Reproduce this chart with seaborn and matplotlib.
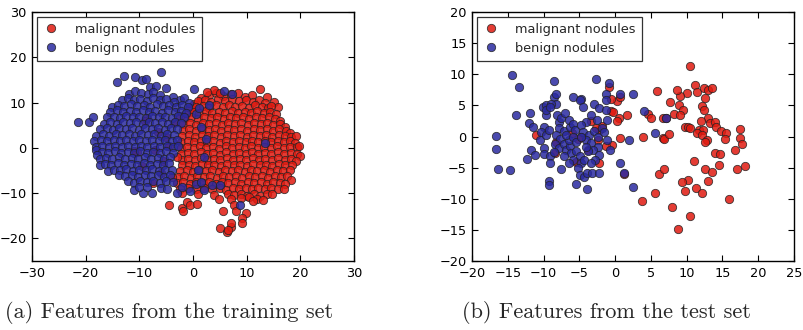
import matplotlib
matplotlib.use("Agg")
import matplotlib.pyplot as plt
import pandas as pd
import seaborn as sns
from matplotlib.lines import Line2D

# ---------------- data ----------------
series_labels = ["malignant nodules", "benign nodules"]
captions = ["(a) Features from the training set", "(b) Features from the test set"]

train_xlim = (-30, 30)
train_ylim = (-25, 30)
train_xticks = [-30, -20, -10, 0, 10, 20, 30]
train_yticks = [-20, -10, 0, 10, 20, 30]

test_xlim = (-20, 25)
test_ylim = (-20, 20)
test_xticks = [-20, -15, -10, -5, 0, 5, 10, 15, 20, 25]
test_yticks = [-20, -15, -10, -5, 0, 5, 10, 15, 20]

train_malignant = [
    (1.5, 11.0), (3.0, 11.6), (4.3, 12.1), (5.6, 11.4), (7.0, 11.9), (8.4, 12.2), (9.6, 11.3), (11.0, 11.6),
    (12.5, 12.9), (3.9, 12.8), (13.8, 11.3),
    (0.2, 9.6), (1.0, 10.3), (2.2, 10.6), (3.4, 10.2), (4.7, 10.7), (6.0, 10.4), (7.2, 10.8), (8.5, 10.3),
    (9.8, 10.6), (11.1, 10.2), (12.3, 10.5), (13.4, 10.0), (15.1, 10.2), (15.8, 9.1),
    (-0.6, 8.8), (0.6, 9.0), (1.8, 9.3), (3.0, 8.9), (4.2, 9.4), (5.5, 9.1), (6.7, 9.5), (7.9, 9.0),
    (9.2, 9.3), (10.4, 8.9), (11.6, 9.4), (12.8, 9.0), (14.0, 8.7), (14.6, 9.3),
    (-1.2, 7.7), (0.0, 8.0), (1.2, 7.6), (2.4, 8.1), (3.6, 7.8), (4.8, 8.0), (6.0, 7.6), (7.2, 8.1),
    (8.4, 7.7), (9.6, 8.0), (10.8, 7.6), (12.0, 8.1), (13.2, 7.7), (14.4, 7.9), (15.4, 7.5),
    (-1.5, 6.5), (-0.3, 6.7), (0.9, 6.4), (2.1, 6.8), (3.3, 6.5), (4.5, 6.7), (5.7, 6.3), (6.9, 6.8),
    (8.1, 6.5), (9.3, 6.7), (10.5, 6.4), (11.7, 6.8), (12.9, 6.5), (14.1, 6.7), (15.3, 6.3), (16.2, 6.0),
    (-1.8, 5.2), (-0.6, 5.4), (0.6, 5.1), (1.8, 5.5), (3.0, 5.2), (4.2, 5.4), (5.4, 5.0), (6.6, 5.5),
    (7.8, 5.2), (9.0, 5.4), (10.2, 5.1), (11.4, 5.5), (12.6, 5.2), (13.8, 5.4), (15.0, 5.0), (16.2, 5.3),
    (17.1, 4.7),
    (-1.9, 3.9), (-0.7, 4.1), (0.5, 3.8), (1.7, 4.2), (2.9, 3.9), (4.1, 4.1), (5.3, 3.7), (6.5, 4.2),
    (7.7, 3.9), (8.9, 4.1), (10.1, 3.8), (11.3, 4.2), (12.5, 3.9), (13.7, 4.1), (14.9, 3.8), (16.1, 4.1),
    (17.3, 3.8), (18.0, 3.3),
    (-2.0, 2.6), (-0.8, 2.8), (0.4, 2.5), (1.6, 2.9), (2.8, 2.6), (4.0, 2.8), (5.2, 2.4), (6.4, 2.9),
    (7.6, 2.6), (8.8, 2.8), (10.0, 2.5), (11.2, 2.9), (12.4, 2.6), (13.6, 2.8), (14.8, 2.5), (16.0, 2.9),
    (17.2, 2.6), (18.3, 2.4), (19.1, 2.6),
    (-2.2, 1.3), (-1.0, 1.5), (0.2, 1.2), (1.4, 1.6), (2.6, 1.3), (3.8, 1.5), (5.0, 1.1), (6.2, 1.6),
    (7.4, 1.3), (8.6, 1.5), (9.8, 1.2), (11.0, 1.6), (12.2, 1.3), (13.4, 1.5), (14.6, 1.2), (15.8, 1.6),
    (17.0, 1.3), (18.1, 1.5), (19.0, 1.0),
    (-2.3, 0.0), (-1.1, 0.2), (0.1, -0.1), (1.3, 0.3), (2.5, 0.0), (3.7, 0.2), (4.9, -0.2), (6.1, 0.3),
    (7.3, 0.0), (8.5, 0.2), (9.7, -0.1), (10.9, 0.3), (12.1, 0.0), (13.3, 0.2), (14.5, -0.1), (15.7, 0.3),
    (16.9, 0.0), (18.1, 0.2), (19.3, 0.1), (19.7, 0.3),
    (-2.2, -1.3), (-1.0, -1.1), (0.2, -1.4), (1.4, -1.0), (2.6, -1.3), (3.8, -1.1), (5.0, -1.5), (6.2, -1.0),
    (7.4, -1.3), (8.6, -1.1), (9.8, -1.4), (11.0, -1.0), (12.2, -1.3), (13.4, -1.1), (14.6, -1.4),
    (15.8, -1.0), (17.0, -1.3), (18.2, -1.1), (19.3, -1.4), (20.0, -1.8),
    (-2.1, -2.6), (-0.9, -2.4), (0.3, -2.7), (1.5, -2.3), (2.7, -2.6), (3.9, -2.4), (5.1, -2.8), (6.3, -2.3),
    (7.5, -2.6), (8.7, -2.4), (9.9, -2.7), (11.1, -2.3), (12.3, -2.6), (13.5, -2.4), (14.7, -2.7),
    (15.9, -2.3), (17.1, -2.6), (18.3, -2.4), (19.1, -2.9),
    (-2.0, -3.9), (-0.8, -3.7), (0.4, -4.0), (1.6, -3.6), (2.8, -3.9), (4.0, -3.7), (5.2, -4.1), (6.4, -3.6),
    (7.6, -3.9), (8.8, -3.7), (10.0, -4.0), (11.2, -3.6), (12.4, -3.9), (13.6, -3.7), (14.8, -4.0),
    (16.0, -3.6), (17.2, -3.9), (18.4, -3.7),
    (-2.4, -5.2), (-1.2, -5.0), (0.0, -5.3), (1.2, -4.9), (2.4, -5.2), (3.6, -5.0), (4.8, -5.4), (6.0, -4.9),
    (7.2, -5.2), (8.4, -5.0), (9.6, -5.3), (10.8, -4.9), (12.0, -5.2), (13.2, -5.0), (14.4, -5.3),
    (15.6, -4.9), (16.8, -5.2), (18.0, -5.0),
    (-2.8, -6.5), (-1.6, -6.3), (-0.4, -6.6), (0.8, -6.2), (2.0, -6.5), (3.2, -6.3), (4.4, -6.7), (5.6, -6.2),
    (6.8, -6.5), (8.0, -6.3), (9.2, -6.6), (10.4, -6.2), (11.6, -6.5), (12.8, -6.3), (14.0, -6.6),
    (15.2, -6.2), (16.4, -6.5), (17.6, -6.3), (18.2, -7.0),
    (-3.0, -7.8), (-1.8, -7.6), (-0.6, -7.9), (0.6, -7.5), (1.8, -7.8), (3.0, -7.6), (4.2, -8.0), (5.4, -7.5),
    (6.6, -7.8), (7.8, -7.6), (9.0, -7.9), (10.2, -7.5), (11.4, -7.8), (12.6, -7.6), (13.8, -7.9),
    (15.0, -7.5), (16.2, -7.8), (17.2, -7.9),
    (-2.5, -9.1), (-1.0, -8.9), (0.5, -9.2), (2.0, -8.8), (3.5, -9.1), (5.0, -8.9), (6.2, -9.3), (7.4, -8.8),
    (8.6, -9.1), (9.8, -8.9), (11.0, -9.2), (12.2, -8.8), (13.4, -9.1), (14.6, -8.9), (15.8, -9.2),
    (16.9, -9.2),
    (-2.0, -10.0), (1.0, -10.1), (4.0, -10.4), (6.5, -10.2), (7.7, -10.5), (8.9, -10.1), (10.1, -10.6),
    (11.3, -10.3), (12.5, -10.6), (13.7, -10.2), (14.8, -10.3),
    (9.0, -11.0), (10.4, -10.8), (12.0, -11.4), (13.0, -11.6), (11.2, -11.8),
    (-4.4, -12.6), (-2.1, -13.3), (-1.9, -14.0), (-1.1, -11.9), (-0.5, -12.6), (0.7, -12.4), (4.8, -11.3),
    (5.6, -14.0), (7.0, -11.3), (7.6, -12.6), (8.1, -14.0), (9.8, -14.4), (9.2, -15.5), (9.2, -16.6),
    (5.0, -17.8), (6.4, -18.5), (7.0, -17.4), (7.1, -16.5), (6.6, -18.2), (2.6, 12.4), (5.0, 12.2),
    (-10.5, -1.0), (-8.5, 6.5), (-9.0, 6.0), (-7.5, -7.8), (-6.0, -5.5), (-5.0, 2.5), (-4.0, -6.5),
    (-3.5, 5.5), (-7.0, -0.5), (-11.0, -0.8), (-3.0, -2.0), (-4.5, 0.5), (-6.5, 3.5), (-2.5, 7.0),
    (-9.5, -4.0), (-5.5, -3.0),
]

train_benign = [
    (-8.0, 13.4), (-6.9, 13.7), (-5.0, 13.3), (-14.2, 14.6), (-12.9, 15.9), (-10.8, 15.6), (-9.5, 15.0),
    (-8.8, 15.1), (-5.9, 16.8), (0.1, 12.9), (5.7, 12.6), (7.3, 11.8), (-21.5, 5.8), (-19.3, 5.8),
    (-18.6, 6.9),
    (-12.0, 11.8), (-10.8, 12.6), (-9.6, 12.2), (-8.4, 11.9), (-7.4, 12.4), (-6.2, 11.6), (-3.8, 11.2),
    (-2.4, 10.6), (-1.6, 10.9),
    (-13.3, 10.5), (-12.2, 10.9), (-11.0, 10.6), (-9.8, 10.8), (-8.6, 10.4), (-7.4, 10.9), (-6.2, 10.5),
    (-5.0, 10.8), (-3.6, 10.2), (-0.8, 10.0),
    (-15.0, 9.0), (-14.0, 9.5), (-12.8, 9.2), (-11.6, 9.6), (-10.4, 9.3), (-9.2, 9.5), (-8.0, 9.1),
    (-6.8, 9.6), (-5.6, 9.3), (-4.4, 9.5), (-3.2, 9.1), (-2.0, 9.4), (-1.0, 9.0),
    (-15.4, 8.0), (-14.2, 8.3), (-13.0, 7.9), (-11.8, 8.2), (-10.6, 7.9), (-9.4, 8.3), (-8.2, 7.9),
    (-7.0, 8.2), (-5.8, 7.8), (-4.6, 8.3), (-3.4, 7.9), (-2.2, 8.2), (-1.3, 7.8),
    (-16.0, 6.7), (-14.8, 6.9), (-13.6, 6.6), (-12.4, 7.0), (-11.2, 6.7), (-10.0, 6.9), (-8.8, 6.6),
    (-7.6, 7.0), (-6.4, 6.7), (-5.2, 6.9), (-4.0, 6.6), (-2.8, 7.0), (-1.6, 6.7),
    (-16.6, 5.3), (-15.4, 5.6), (-14.2, 5.3), (-13.0, 5.7), (-11.8, 5.4), (-10.6, 5.6), (-9.4, 5.3),
    (-8.2, 5.7), (-7.0, 5.4), (-5.8, 5.6), (-4.6, 5.3), (-3.4, 5.7), (-2.2, 5.4),
    (-17.3, 4.1), (-16.1, 4.3), (-14.9, 4.0), (-13.7, 4.4), (-12.5, 4.1), (-11.3, 4.3), (-10.1, 4.0),
    (-8.9, 4.4), (-7.7, 4.1), (-6.5, 4.3), (-5.3, 4.0), (-4.1, 4.4), (-2.9, 4.1),
    (-18.0, 2.7), (-16.8, 3.0), (-15.6, 2.7), (-14.4, 3.1), (-13.2, 2.8), (-12.0, 3.0), (-10.8, 2.7),
    (-9.6, 3.1), (-8.4, 2.8), (-7.2, 3.0), (-6.0, 2.7), (-4.8, 3.1), (-3.6, 2.8),
    (-18.4, 1.5), (-17.2, 1.7), (-16.0, 1.4), (-14.8, 1.8), (-13.6, 1.5), (-12.4, 1.7), (-11.2, 1.4),
    (-10.0, 1.8), (-8.8, 1.5), (-7.6, 1.7), (-6.4, 1.4), (-5.2, 1.8), (-4.0, 1.5), (-2.9, 1.7),
    (-18.1, 0.2), (-16.9, 0.4), (-15.7, 0.1), (-14.5, 0.5), (-13.3, 0.2), (-12.1, 0.4), (-10.9, 0.1),
    (-9.7, 0.5), (-8.5, 0.2), (-7.3, 0.4), (-6.1, 0.1), (-4.9, 0.5), (-3.7, 0.2), (-2.8, 0.4),
    (-18.0, -0.4), (-17.0, -1.0), (-15.8, -1.2), (-14.6, -0.8), (-13.4, -1.1), (-12.2, -0.9),
    (-11.0, -1.2), (-9.8, -0.8), (-8.6, -1.1), (-7.4, -0.9), (-6.2, -1.2), (-5.0, -0.8), (-3.8, -1.1),
    (-17.9, -1.5), (-17.4, -2.4), (-16.2, -2.2), (-15.0, -2.5), (-13.8, -2.1), (-12.6, -2.4),
    (-11.4, -2.2), (-10.2, -2.5), (-9.0, -2.1), (-7.8, -2.4), (-6.6, -2.2), (-5.4, -2.5), (-4.2, -2.1),
    (-17.3, -3.8), (-16.4, -3.5), (-15.2, -3.7), (-14.0, -3.4), (-12.8, -3.8), (-11.6, -3.5),
    (-10.4, -3.7), (-9.2, -3.4), (-8.0, -3.8), (-6.8, -3.5), (-5.6, -3.7), (-4.4, -3.4),
    (-15.9, -5.2), (-14.8, -4.8), (-13.6, -5.0), (-12.4, -4.7), (-11.2, -5.1), (-10.0, -4.8),
    (-8.8, -5.0), (-7.6, -4.7), (-6.4, -5.1), (-5.2, -4.8), (-4.0, -5.0),
    (-13.8, -6.0), (-12.6, -6.3), (-11.4, -6.1), (-10.2, -6.4), (-9.0, -6.0), (-7.8, -6.3), (-6.6, -6.1),
    (-5.4, -6.4), (-4.2, -6.0),
    (-12.2, -7.4), (-11.0, -7.7), (-9.8, -7.3), (-8.6, -7.6), (-7.4, -7.4), (-6.2, -7.7), (-5.0, -7.3),
    (-3.8, -7.6), (0.5, -8.0), (1.5, -7.6),
    (-11.0, -9.3), (-9.3, -9.9), (-7.7, -9.9), (-10.0, -8.6), (-8.5, -8.7), (-6.0, -8.8), (-4.9, -9.1),
    (-3.0, -9.9), (-0.5, -9.6), (2.1, -9.4), (3.5, -8.2), (5.1, -8.2), (8.7, -12.7), (-2.0, -8.7),
    (1.5, 4.5), (2.0, -2.0), (0.5, 7.5), (3.0, 9.5), (13.5, 1.0), (1.0, -5.0), (2.5, 2.0), (1.2, 8.8),
]

test_malignant = [
    (10.4, 11.4), (11.1, 8.2), (11.5, 7.1), (12.4, 7.8), (13.0, 7.4), (13.6, 7.8), (12.6, 6.2),
    (10.0, 7.0), (9.1, 6.5), (8.6, 7.5), (5.8, 7.3), (7.7, 5.6), (8.9, 5.0), (9.5, 4.3), (8.2, 3.6),
    (9.0, 3.5), (6.7, 2.9), (4.6, 3.6), (5.0, 3.0), (12.2, 4.9), (12.4, 4.2), (13.0, 2.9), (13.3, 2.2),
    (13.9, 2.4), (14.1, 1.6), (12.0, 2.5), (11.7, 1.1), (12.3, 1.1), (11.4, 0.6), (12.1, 0.2),
    (9.7, 1.5), (10.2, 1.6), (10.4, 1.3), (14.8, 0.9), (15.5, 0.6), (15.4, -0.4), (12.8, -0.6),
    (12.6, -0.9), (17.4, -0.3), (17.5, 1.2), (17.7, -1.2), (16.7, -2.2), (13.9, -2.6), (14.7, -2.8),
    (11.0, -3.9), (12.5, -5.2), (14.5, -4.6), (13.6, -5.7), (17.1, -5.2), (18.2, -4.7), (13.0, -7.2),
    (10.2, -7.0), (9.3, -7.3), (9.8, -8.7), (11.3, -8.3), (12.2, -9.0), (15.9, -10.0), (8.0, -11.4),
    (10.4, -12.7), (8.8, -14.8), (5.6, -9.1), (3.7, -10.4), (6.1, -6.1), (6.8, -5.3), (6.7, -0.2),
    (6.9, -0.4), (7.5, 0.4), (3.9, 0.0), (0.7, -0.2), (1.7, 3.5), (0.6, 2.9), (0.3, 2.5), (0.2, 5.7),
    (0.7, 6.4), (-0.6, 6.1), (-0.6, 4.1), (-0.8, 7.9), (-0.3, 4.0), (1.3, -6.0), (-0.4, -1.4),
    (-1.3, -1.5), (-2.3, -4.2), (-2.3, 1.0), (-1.9, 1.7), (-3.3, 2.5), (-2.4, -0.5), (-3.8, -2.2),
    (-4.7, -0.1), (-6.0, 0.6), (-5.5, -4.1), (-8.4, -2.6), (-8.3, -0.9), (-11.0, 0.2), (-5.2, -0.4),
    (-2.7, 1.3), (7.1, 2.9),
]

test_benign = [
    (-14.4, 9.8), (-13.4, 7.9), (-13.9, 3.4), (-16.7, 0.1), (-16.6, -2.0), (-16.3, -5.2), (-14.7, -5.4),
    (-12.0, 2.1), (-11.9, 3.7), (-11.5, 1.5), (-12.3, -3.6), (-11.8, -2.2), (-11.2, -2.9), (-8.5, 8.9),
    (-8.5, 6.3), (-8.2, 6.8), (-8.3, 5.2), (-10.1, 4.8), (-9.6, 5.0), (-9.0, 5.3), (-9.7, 3.5),
    (-9.7, 4.3), (-9.1, 4.8), (-10.0, 1.5), (-10.3, 0.8), (-10.5, -0.6), (-9.7, 0.2), (-9.3, 1.0),
    (-9.9, -1.9), (-9.9, -2.8), (-9.1, -3.2), (-9.1, -4.3), (-9.2, -7.2), (-9.2, -7.8), (-7.5, -5.3),
    (-8.1, 3.4), (-7.9, 2.3), (-7.5, 2.9), (-7.0, 3.8), (-7.8, 1.4), (-7.2, 0.9), (-8.2, 0.3),
    (-7.7, -0.4), (-8.4, -1.2), (-7.9, -1.8), (-7.2, -1.2), (-6.8, -2.2), (-6.3, -1.6), (-6.5, -0.6),
    (-6.8, 0.2), (-6.3, 1.5), (-6.5, 2.6), (-5.9, 2.0), (-5.6, 1.0), (-5.9, -0.1), (-5.4, -0.9),
    (-6.1, -2.7), (-5.4, -2.4), (-4.9, -3.1), (-5.9, -3.7), (-4.7, -4.3), (-4.3, -3.8), (-5.2, -5.1),
    (-4.9, -6.2), (-4.3, -6.5), (-5.4, -7.7), (-3.9, -8.4), (-3.9, -5.8), (-3.2, -5.8), (-2.3, -5.8),
    (-5.9, 6.4), (-4.7, 6.1), (-4.9, 5.8), (-4.5, 4.8), (-2.7, 9.2), (-3.0, 5.3), (-2.3, 4.5),
    (-3.3, 3.4), (-2.6, 2.6), (-4.0, 2.4), (-4.7, 1.8), (-4.5, 0.8), (-3.6, 0.3), (-2.9, 0.9),
    (-2.4, -0.1), (-4.0, -0.6), (-3.3, -1.1), (-2.4, -1.7), (-3.1, -2.2), (-3.8, -2.4), (-2.3, -2.9),
    (-2.8, -3.7), (-3.3, -4.2), (-1.8, 1.4), (-1.3, 4.2), (-0.8, 8.6), (-1.3, 6.9), (-1.3, 5.9),
    (-1.2, 2.6), (-1.1, -0.6), (-0.7, -2.2), (0.7, -4.3), (1.3, -5.9), (0.7, 6.8), (2.5, 6.9),
    (2.0, -0.6), (2.5, -8.1), (4.1, 4.1), (5.6, 0.5), (7.1, 2.9), (-7.2, -3.2), (-6.5, -4.3),
    (-4.0, -1.7), (-4.7, -0.1), (-8.6, -2.5), (-1.6, 0.7),
]

# ---------------- styling ----------------
red = "#e01a10"
blue = "#2a2aa0"
edge = "#222222"
alpha = 0.85

sns.set_theme(style="white")
plt.rcParams.update({
    "font.family": ["DejaVu Sans"],
    "axes.edgecolor": "black",
    "axes.linewidth": 1.0,
    "xtick.direction": "in",
    "ytick.direction": "in",
    "xtick.top": True,
    "ytick.right": True,
    "xtick.bottom": True,
    "ytick.left": True,
    "xtick.major.size": 4.5,
    "ytick.major.size": 4.5,
    "xtick.major.width": 0.8,
    "ytick.major.width": 0.8,
    "xtick.major.pad": 4,
    "ytick.major.pad": 4,
    "xtick.labelsize": 9.3,
    "ytick.labelsize": 9.3,
    "xtick.color": "black",
    "ytick.color": "black",
    "axes.unicode_minus": True,
})


def frame(points, label):
    return pd.DataFrame({"x": [p[0] for p in points], "y": [p[1] for p in points], "cls": label})


fig = plt.figure(figsize=(8.04, 3.30), dpi=100)
W, H = 804, 330
ax_a = fig.add_axes([32 / W, (H - 261) / H, 322 / W, 249 / H])
ax_b = fig.add_axes([472 / W, (H - 261) / H, 322 / W, 249 / H])

panels = [
    (ax_a, train_malignant, train_benign, train_xlim, train_ylim, train_xticks, train_yticks),
    (ax_b, test_malignant, test_benign, test_xlim, test_ylim, test_xticks, test_yticks),
]

for ax, mal, ben, xl, yl, xt, yt in panels:
    df = pd.concat([frame(mal, series_labels[0]), frame(ben, series_labels[1])], ignore_index=True)
    for lab, col in zip(series_labels, [red, blue]):
        sns.scatterplot(data=df[df["cls"] == lab], x="x", y="y", ax=ax, color=col,
                        s=36, edgecolor=edge, linewidth=0.6, alpha=alpha, legend=False)
    ax.set_xlim(*xl)
    ax.set_ylim(*yl)
    ax.set_xticks(xt)
    ax.set_yticks(yt)
    ax.set_xlabel("")
    ax.set_ylabel("")
    for sp in ax.spines.values():
        sp.set_visible(True)
        sp.set_color("black")
    handles = [Line2D([], [], linestyle="", marker="o", markersize=6.0, markerfacecolor=c,
                      markeredgecolor=edge, markeredgewidth=0.6, alpha=alpha)
               for c in [red, blue]]
    leg = ax.legend(handles, series_labels, loc="upper left", fontsize=9.3, frameon=True,
                    fancybox=False, framealpha=1, edgecolor="#333333", borderaxespad=0.35,
                    handlelength=1.2, handletextpad=1.3, borderpad=0.5, labelspacing=0.45)
    leg.get_frame().set_linewidth(0.9)

fig.text(5 / W, 1 - 312 / H, captions[0], fontfamily="cmr10", fontsize=16, va="center", ha="left")
fig.text(462 / W, 1 - 312 / H, captions[1], fontfamily="cmr10", fontsize=16, va="center", ha="left")

fig.savefig("out.png", dpi=100, facecolor="white")
